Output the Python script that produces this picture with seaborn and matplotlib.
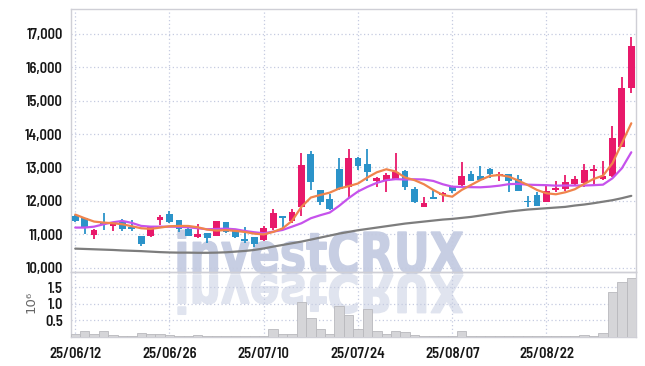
import numpy as np
import pandas as pd
import seaborn as sns
import matplotlib
matplotlib.use("Agg")
import matplotlib.pyplot as plt
from matplotlib.ticker import FuncFormatter
from matplotlib.textpath import TextPath
from matplotlib.patches import PathPatch
from matplotlib.transforms import Affine2D
from matplotlib.font_manager import FontProperties

# ---------------- data ----------------
tick_labels = ["25/06/12", "25/06/26", "25/07/10", "25/07/24", "25/08/07", "25/08/22"]
tick_pos = [0, 10, 20, 30, 40, 50]

opens = [11550, 11490, 10970, 11350, 11250, 11400, 11230, 10950, 10960, 11440,
         11610, 11430, 11160, 10930, 11040, 10960, 11370, 11090, 10860, 10920,
         10820, 11200, 11550, 11410, 11830, 13400, 12330, 12060, 12955, 12410,
         13290, 13105, 12590, 12605, 12660, 12900, 12360, 11830, 12120, 12180,
         12450, 12490, 12810, 12750, 12955, 12740, 12790, 12650, 12000, 12180,
         11970, 12330, 12360, 12510, 12530, 12900, 12640, 12730, 13620, 15370]
highs = [11580, 11500, 11150, 11630, 11310, 11450, 11420, 10960, 11260, 11590,
         11710, 11440, 11230, 11310, 11050, 11410, 11380, 11100, 11210, 10930,
         11250, 11760, 11555, 11750, 13440, 13490, 12340, 12200, 13275, 13545,
         13320, 13545, 12725, 12830, 13425, 12920, 12420, 12130, 12350, 12260,
         12460, 13160, 12900, 13050, 12970, 12860, 12790, 12780, 12160, 12280,
         12480, 12580, 12770, 12750, 13100, 13070, 13190, 14250, 15720, 16900]
lows = [11380, 11010, 10850, 11130, 11110, 11110, 11110, 10660, 10910, 11280,
        11350, 11080, 10950, 10880, 10730, 10950, 11030, 10900, 10750, 10610,
        10790, 11130, 11180, 11330, 11550, 12330, 11880, 11740, 12340, 12110,
        12925, 12605, 12410, 12260, 12650, 12330, 11930, 11820, 12050, 11980,
        12230, 12410, 12600, 12620, 12680, 12600, 12280, 12300, 11830, 11850,
        11960, 12280, 12290, 12450, 12410, 12480, 12630, 12720, 13620, 15240]
closes = [11400, 11180, 11130, 11320, 11290, 11170, 11170, 10720, 11240, 11510,
          11380, 11160, 10960, 11010, 10880, 11400, 11060, 10930, 10800, 10720,
          11190, 11650, 11490, 11680, 13080, 12550, 11980, 11750, 12360, 13280,
          13050, 12875, 12690, 12775, 12875, 12425, 11980, 11950, 12060, 12250,
          12300, 12750, 12600, 12630, 12810, 12790, 12600, 12310, 11960, 11860,
          12300, 12390, 12560, 12660, 12930, 12960, 12750, 13890, 15370, 16640]
volume_m = [0.10, 0.17, 0.08, 0.19, 0.05, 0.04, 0.04, 0.13, 0.08, 0.10,
            0.07, 0.02, 0.02, 0.05, 0.02, 0.04, 0.04, 0.02, 0.02, 0.04,
            0.04, 0.23, 0.08, 0.08, 1.05, 0.58, 0.23, 0.10, 0.92, 0.66,
            0.23, 0.84, 0.17, 0.10, 0.19, 0.16, 0.07, 0.04, 0.02, 0.04,
            0.02, 0.19, 0.04, 0.03, 0.03, 0.03, 0.03, 0.03, 0.03, 0.03,
            0.02, 0.02, 0.02, 0.02, 0.07, 0.04, 0.13, 1.35, 1.65, 1.77]
ma_short = [11590, 11480, 11380, 11350, 11330, 11300, 11240, 11180, 11160, 11200,
            11240, 11250, 11248, 11209, 11140, 11110, 11125, 11100, 11069, 11018,
            10995, 11070, 11175, 11400, 11820, 12100, 12177, 12246, 12370, 12440,
            12520, 12700, 12856, 12946, 12880, 12700, 12620, 12497, 12326, 12177,
            12126, 12326, 12476, 12626, 12746, 12775, 12725, 12610, 12476, 12326,
            12227, 12197, 12257, 12347, 12506, 12656, 12755, 13126, 13725, 14323]
ma_mid = [11200, 11200, 11228, 11299, 11359, 11400, 11340, 11250, 11228, 11228,
          11228, 11225, 11209, 11180, 11150, 11159, 11168, 11149, 11099, 11060,
          11030, 11078, 11129, 11228, 11330, 11480, 11570, 11650, 11850, 12080,
          12280, 12420, 12540, 12620, 12650, 12640, 12647, 12640, 12596, 12497,
          12425, 12416, 12410, 12406, 12425, 12455, 12500, 12510, 12485, 12476,
          12470, 12455, 12460, 12460, 12460, 12470, 12485, 12676, 12975, 13455]
ma_long = [10570, 10560, 10550, 10540, 10530, 10515, 10505, 10495, 10480, 10465,
           10455, 10450, 10450, 10445, 10445, 10450, 10460, 10480, 10500, 10530,
           10575, 10630, 10680, 10730, 10780, 10840, 10900, 10960, 11020, 11070,
           11120, 11160, 11200, 11240, 11280, 11320, 11350, 11380, 11410, 11440,
           11460, 11490, 11520, 11560, 11600, 11640, 11680, 11710, 11740, 11760,
           11780, 11800, 11820, 11860, 11890, 11930, 11975, 12020, 12080, 12150]

df = pd.DataFrame({"open": opens, "high": highs, "low": lows, "close": closes,
                   "vol": volume_m, "ma_s": ma_short, "ma_m": ma_mid, "ma_l": ma_long})
df["i"] = np.arange(len(df))

# ---------------- style ----------------
sns.set_theme(style="white")
plt.rcParams["font.family"] = ["Barlow Semi Condensed", "DejaVu Sans"]
plt.rcParams["font.weight"] = 600

W, H = 645, 366
fig = plt.figure(figsize=(W / 100, H / 100), dpi=100)
L_, R_ = 71, 636
ax = fig.add_axes([L_ / W, 1 - 272 / H, (R_ - L_) / W, (272 - 9) / H])
axv = fig.add_axes([L_ / W, 1 - 337 / H, (R_ - L_) / W, (337 - 272) / H], sharex=ax)

UP, DOWN = "#e8196a", "#2b93c9"
GRID = "#c5cbe0"
SPINE = "#cfcfd6"

for a in (ax, axv):
    a.set_facecolor("none")
    for s in a.spines.values():
        s.set_color(SPINE)
        s.set_linewidth(1.0)
    a.grid(True, color=GRID, linestyle=(0, (1, 2)), linewidth=0.9)
    a.set_axisbelow(True)
    a.tick_params(length=0, colors="#161616", labelsize=10.5, pad=6)

# candles
up = df["close"] >= df["open"]
cols = np.where(up, UP, DOWN)
body_lo = np.minimum(df["open"], df["close"])
body_h = np.maximum((df["close"] - df["open"]).abs(), 45)
ax.vlines(df["i"], df["low"], df["high"], colors=cols, linewidth=1.3, zorder=3)
ax.bar(df["i"], body_h, bottom=body_lo, width=0.72, color=cols, linewidth=0, zorder=4)

# moving averages
sns.lineplot(data=df, x="i", y="ma_l", ax=ax, color="#7d7d7d", linewidth=1.6, zorder=5)
sns.lineplot(data=df, x="i", y="ma_m", ax=ax, color="#c652ec", linewidth=1.6, zorder=5)
sns.lineplot(data=df, x="i", y="ma_s", ax=ax, color="#f0844c", linewidth=1.6, zorder=6)

ax.set_xlim(-0.45, 59.5)
ax.set_ylim(9870, 17745)
ax.set_yticks(range(10000, 17001, 1000))
ax.yaxis.set_major_formatter(FuncFormatter(lambda v, p: f"{int(v):,}"))
ax.set_xticks(tick_pos)
ax.tick_params(axis="x", labelbottom=False)
ax.set_xlabel("")
ax.set_ylabel("")

# volume
axv.bar(df["i"], df["vol"], width=1.0, color="#d5d5d8", edgecolor="#b9b9bd", linewidth=0.6, zorder=3)
axv.set_ylim(0, 1.96)
axv.set_yticks([0.5, 1.0, 1.5])
axv.set_yticklabels(["0.5", "1.0", "1.5"])
axv.set_xticks(tick_pos)
axv.set_xticklabels(tick_labels)
axv.tick_params(axis="x", pad=7)
axv.set_xlabel("")
axv.set_ylabel("10⁶", fontsize=9.5, color="#666666", fontweight="normal", family="DejaVu Sans")
axv.yaxis.set_label_coords(-0.060, 0.54)

# watermark with reflection
fp = FontProperties(family="DejaVu Sans", weight="bold")
tp = TextPath((0, 0), "investCRUX", size=100, prop=fp)
ext = tp.get_extents()
cap = 72.9
x0, x1 = 178, 463
base = H - 273
sx = (x1 - x0) / ext.width
sy = 41 / cap
tr = Affine2D().translate(-ext.x0, 0).scale(sx, sy).translate(x0, base).scale(1 / W, 1 / H)
fig.patches.append(PathPatch(tr.transform_path(tp), transform=fig.transFigure,
                             fc="#c7cee3", ec="#c7cee3", lw=1.0, zorder=-1))
trr = Affine2D().translate(-ext.x0, 0).scale(sx, -sy * 0.92).translate(x0, base - 2).scale(1 / W, 1 / H)
fig.patches.append(PathPatch(trr.transform_path(tp), transform=fig.transFigure,
                             fc="#e0e4ef", ec="#e0e4ef", lw=1.0, zorder=-1))

fig.savefig("out.png", dpi=100)
